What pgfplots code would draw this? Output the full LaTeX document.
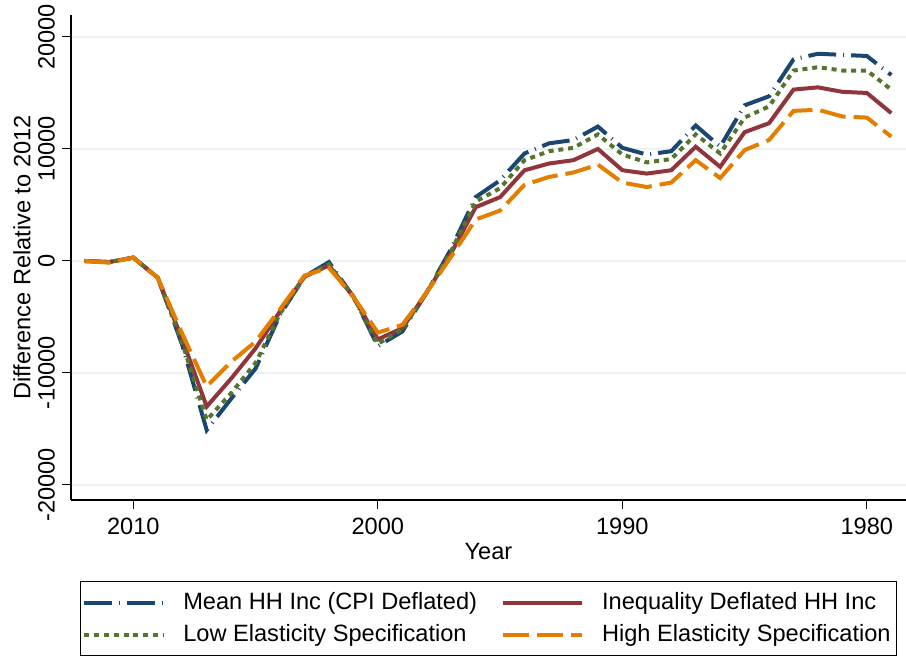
\documentclass[border=0pt]{standalone}
\usepackage{pgfplots}
\pgfplotsset{compat=1.18}
\usepackage{fontspec}
\setmainfont{Liberation Sans}
\usetikzlibrary{calc}

\definecolor{stnavy}{RGB}{26,71,111}
\definecolor{stmaroon}{RGB}{144,53,59}
\definecolor{stgreen}{RGB}{85,117,47}
\definecolor{storange}{RGB}{227,126,0}
\definecolor{stgrid}{RGB}{234,242,243}

% year, mean (CPI), inequality deflated, low elasticity, high elasticity
\pgfplotstableread{
year mean ineq low high
2012 0 0 0 0
2011 -100 -100 -100 -150
2010 300 300 300 300
2009 -1500 -1500 -1500 -1500
2008 -7500 -7000 -7300 -6500
2007 -15100 -13000 -14200 -11200
2006 -12300 -10500 -11800 -9000
2005 -9600 -7800 -9100 -7200
2004 -4800 -4500 -4700 -4300
2003 -1400 -1400 -1400 -1300
2002 -100 -400 -300 -600
2001 -3200 -3200 -3200 -3200
2000 -7600 -7000 -7400 -6400
1999 -6300 -6000 -6100 -5700
1998 -2800 -2800 -2800 -2800
1997 1100 700 900 400
1996 5700 4800 5300 3700
1995 7200 5700 6500 4500
1994 9600 8100 9000 6800
1993 10500 8700 9800 7500
1992 10800 9000 10100 7900
1991 12000 10000 11300 8600
1990 10100 8100 9500 7000
1989 9500 7800 8800 6600
1988 9800 8100 9100 7000
1987 12100 10200 11300 9000
1986 10200 8400 9600 7400
1985 13900 11500 12800 9900
1984 14700 12300 13800 10800
1983 18000 15300 17000 13400
1982 18500 15500 17300 13500
1981 18400 15100 17000 12900
1980 18300 15000 17000 12800
1979 16600 13200 15300 11100
}\datatable

\begin{document}
\begin{tikzpicture}
\begin{axis}[
    scale only axis,
    width=417.5pt,
    height=242.5pt,
    x dir=reverse,
    xmin=1978.4, xmax=2012.55,
    ymin=-21340, ymax=21960,
    axis x line*=bottom,
    axis y line*=left,
    axis line style={line width=0.6pt},
    xtick={2010,2000,1990,1980},
    ytick={-20000,-10000,0,10000,20000},
    scaled y ticks=false,
    tick align=outside,
    major tick length=4.5pt,
    tick style={line width=0.5pt,black},
    x tick label style={/pgf/number format/1000 sep={}, yshift=-1pt},
    y tick label style={rotate=90, anchor=south, /pgf/number format/1000 sep={}},
    /pgf/number format/assume math mode=true,
    ticklabel style={font=\fontsize{11.8}{13}\selectfont},
    xlabel={Year},
    ylabel={Difference Relative to 2012},
    every axis x label/.style={at={(axis description cs:0.5,0)}, anchor=center, yshift=-25.5pt, font=\fontsize{11.8}{13}\selectfont},
    every axis y label/.style={at={(axis description cs:0,0.5)}, xshift=-24.5pt, rotate=90, anchor=center, font=\fontsize{11.8}{13}\selectfont},
    ymajorgrids,
    major grid style={stgrid, line width=1pt},
    legend columns=2,
    legend cell align=left,
    legend style={
        at={(axis description cs:0.5,-0.167)}, anchor=north,
        draw=black, line width=0.5pt,
        font=\fontsize{11.8}{13}\selectfont,
        inner xsep=1pt, inner ysep=3.5pt,
        row sep=2pt,
        /tikz/every odd column/.append style={column sep=7pt},
        /tikz/every even column/.append style={column sep=10pt},
    },
    legend image code/.code={\draw[#1] (0pt,0pt) -- (39.5pt,0pt);},
    every axis plot/.append style={line width=2pt},
]
\coordinate (bl) at (rel axis cs:0,0);
\coordinate (tr) at (rel axis cs:1,1);
\addplot[stnavy, dash pattern=on 14pt off 3.5pt on 0.5pt off 3.5pt] table[x=year, y=mean] {\datatable};
\addlegendentry{Mean HH Inc (CPI Deflated)}
\addplot[stmaroon] table[x=year, y=ineq] {\datatable};
\addlegendentry{Inequality Deflated HH Inc}
\addplot[stgreen, dash pattern=on 2.5pt off 2.4pt] table[x=year, y=low] {\datatable};
\addlegendentry{Low Elasticity Specification}
\addplot[storange, dash pattern=on 13pt off 4pt] table[x=year, y=high] {\datatable};
\addlegendentry{High Elasticity Specification}
\end{axis}
\pgfresetboundingbox
\path ($(bl)+(-35.5pt,-79pt)$) rectangle ($(tr)+(0pt,7.5pt)$);
\end{tikzpicture}
\end{document}
